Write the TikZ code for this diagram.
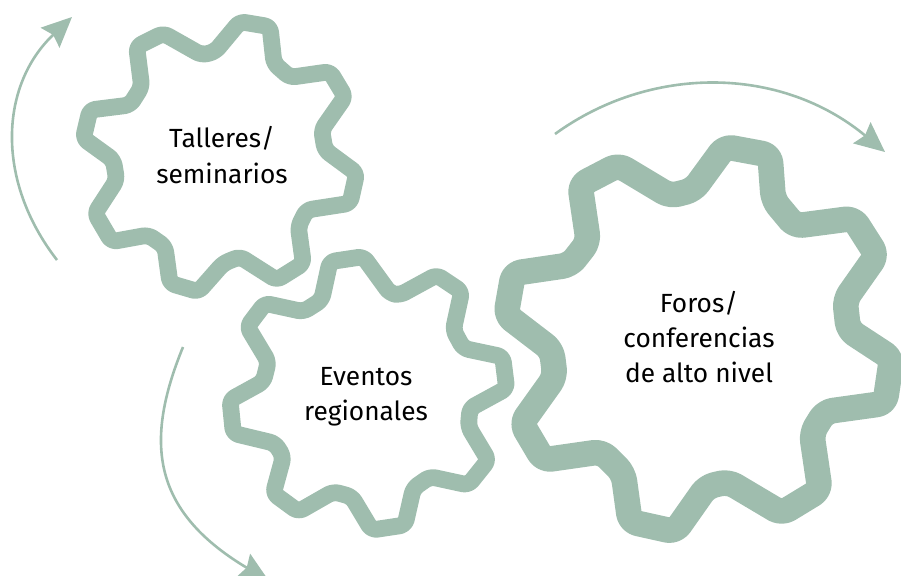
\documentclass[tikz,border=0pt]{standalone}
\usepackage{fontspec}
\setmainfont{Fira Sans}
\usepackage{tikz}
\usetikzlibrary{arrows.meta}
\definecolor{gearcolor}{HTML}{9FBDAE}
\tikzset{
	gearline/.style={draw=gearcolor,line join=round,rounded corners=0.14cm},
	turnarrow/.style={draw=gearcolor,line width=0.065cm,-{Stealth[length=0.75cm,width=0.68cm,inset=0.1cm,fill=gearcolor]}},
	gearlabel/.style={align=center,inner sep=0pt,font=\fontsize{18.7}{25}\selectfont}
}
\begin{document}
\begin{tikzpicture}[x=0.025cm,y=-0.025cm]
	\useasboundingbox (0,0) rectangle (901,575);
	
	%Small gear, top left
	\begin{scope}[shift={(0,0)},x=0.008333cm,y=-0.008333cm]
	\draw[gearline,line width=0.42cm] (490,100) -- (605,165) -- (645,155) -- (720,65) -- (810,80) -- (822,190) -- (870,232) -- (990,215) -- (1035,290) -- (965,390) -- (975,450) -- (1070,520) -- (1050,610) -- (920,630) -- (895,680) -- (910,790) -- (830,840) -- (720,770) -- (670,790) -- (595,875) -- (510,850) -- (495,740) -- (445,705) -- (335,725) -- (285,640) -- (350,540) -- (340,480) -- (250,415) -- (270,330) -- (390,315) -- (425,260) -- (410,140) -- cycle;
	\end{scope}
	
	%Small gear, bottom
	\begin{scope}[shift={(130,240)},x=0.008333cm,y=-0.008333cm]
	\draw[gearline,line width=0.42cm] (405,190) -- (520,215) -- (575,180) -- (600,65) -- (700,50) -- (780,160) -- (810,165) -- (920,105) -- (995,155) -- (970,270) -- (1000,325) -- (1118,350) -- (1130,445) -- (1020,505) -- (1015,560) -- (1075,660) -- (1015,735) -- (900,710) -- (850,745) -- (825,855) -- (725,870) -- (665,770) -- (610,755) -- (505,815) -- (430,760) -- (460,650) -- (435,610) -- (310,580) -- (300,480) -- (400,425) -- (415,365) -- (352,260) -- cycle;
	\end{scope}
	
	%Big gear, right
	\begin{scope}[shift={(480,110)},x=0.008333cm,y=-0.008333cm]
	\draw[gearline,line width=0.64cm,rounded corners=0.2cm] (415,165) -- (570,258) -- (640,240) -- (735,110) -- (870,135) -- (880,270) -- (945,348) -- (1120,325) -- (1190,435) -- (1095,570) -- (1105,660) -- (1235,745) -- (1215,880) -- (1035,905) -- (995,970) -- (1020,1140) -- (905,1210) -- (745,1115) -- (680,1130) -- (585,1265) -- (450,1235) -- (430,1090) -- (365,1025) -- (190,1050) -- (125,940) -- (225,800) -- (215,720) -- (78,615) -- (100,490) -- (270,465) -- (325,395) -- (300,225) -- cycle;
	\end{scope}
	
	%Labels
	\node[gearlabel] (talleres) at (222,155) {Talleres/\\seminarios};
	\node[gearlabel] (eventos) at (366,397) {Eventos\\regionales};
	\node[gearlabel] (foros) at (699,337) {Foros/\\conferencias\\de alto nivel};
	
	%Ends of the arrows
	\coordinate (a1) at (57,260);
	\coordinate (a2) at (72,17);
	\coordinate (b1) at (183,347);
	\coordinate (b2) at (269,581);
	\coordinate (c1) at (555,134);
	\coordinate (c2) at (885,152);
	
	\draw[turnarrow] (a1) .. controls (-5,180) and (0,85) .. (a2);
	\draw[turnarrow] (b1) .. controls (145,440) and (150,510) .. (b2);
	\draw[turnarrow] (c1) .. controls (650,65) and (780,65) .. (c2);
\end{tikzpicture}
\end{document}
